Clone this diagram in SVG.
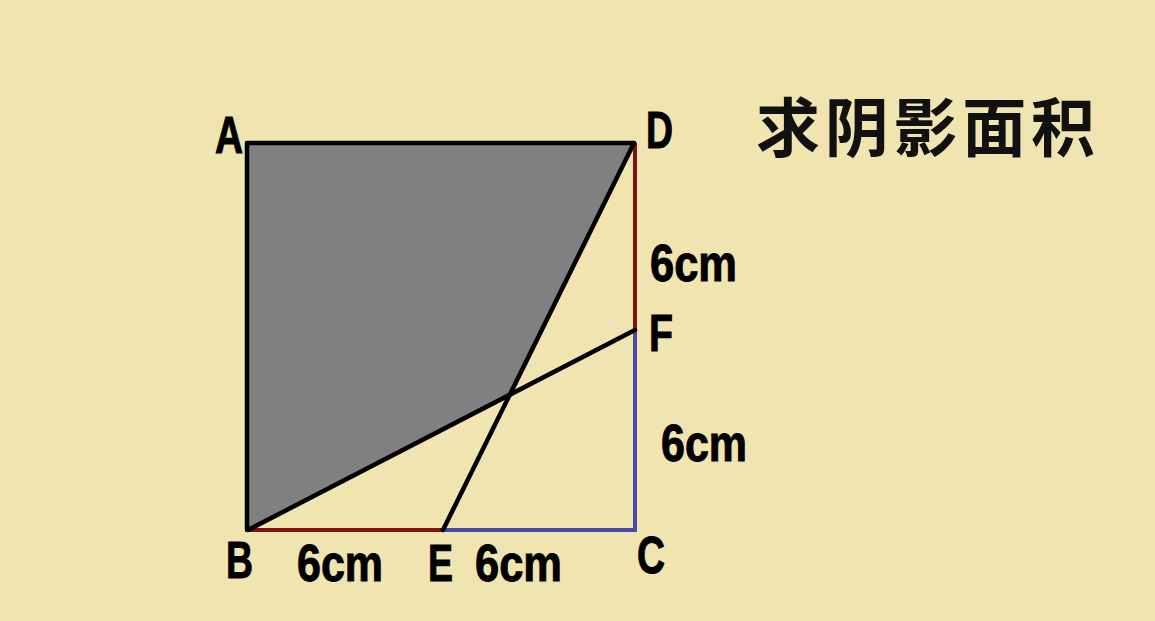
<svg xmlns="http://www.w3.org/2000/svg" width="1155" height="621" viewBox="0 0 1155 621">
<style>
.lbl{font-family:"Liberation Sans",Arial,sans-serif;font-weight:bold;font-size:52px;fill:#000;stroke:#000;stroke-width:1}
.title{font-family:"Noto Sans CJK SC","Noto Sans",sans-serif;font-weight:bold;font-size:64px;fill:#111}
.blk{stroke:#000;stroke-width:4.5;fill:none;stroke-linecap:round}
.red{stroke:#7f1212;stroke-width:4;fill:none}
.blue{stroke:#4a4aa6;stroke-width:4;fill:none}
</style>
<rect width="1155" height="621" fill="#f0e4b0"/>
<polygon id="shade" points="247,143 634,143 510,395 247,530" fill="#808080"/>
<g id="edges">
<line class="red" x1="635" y1="143" x2="635" y2="330"/>
<line class="blue" x1="635" y1="330" x2="635" y2="531"/>
<line class="red" x1="247" y1="530" x2="443" y2="530"/>
<line class="blue" x1="443" y1="530" x2="637" y2="530"/>
<line class="blk" x1="247" y1="143" x2="634" y2="143"/>
<line class="blk" x1="247" y1="143" x2="247" y2="530"/>
<line class="blk" x1="634" y1="143" x2="443" y2="530"/>
<line class="blk" x1="248" y1="530" x2="635" y2="330"/>
</g>
<g id="A"><text class="lbl" x="215" y="153" textLength="28" lengthAdjust="spacingAndGlyphs">A</text></g>
<g id="D"><text class="lbl" x="646" y="148" textLength="27" lengthAdjust="spacingAndGlyphs">D</text></g>
<g id="F"><text class="lbl" x="649" y="351" textLength="24" lengthAdjust="spacingAndGlyphs">F</text></g>
<g id="B"><text class="lbl" x="226" y="578" textLength="27" lengthAdjust="spacingAndGlyphs">B</text></g>
<g id="E"><text class="lbl" x="428" y="581" textLength="25" lengthAdjust="spacingAndGlyphs">E</text></g>
<g id="C"><text class="lbl" x="637" y="573" textLength="28" lengthAdjust="spacingAndGlyphs">C</text></g>
<g id="len-DF"><text class="lbl" x="650" y="281" textLength="87" lengthAdjust="spacingAndGlyphs">6cm</text></g>
<g id="len-FC"><text class="lbl" x="661" y="461" textLength="86" lengthAdjust="spacingAndGlyphs">6cm</text></g>
<g id="len-BE"><text class="lbl" x="297" y="581" textLength="86" lengthAdjust="spacingAndGlyphs">6cm</text></g>
<g id="len-EC"><text class="lbl" x="475" y="581" textLength="87" lengthAdjust="spacingAndGlyphs">6cm</text></g>
<g id="title"><text class="title" x="756" y="151" textLength="339" lengthAdjust="spacing">求阴影面积</text></g>
</svg>
